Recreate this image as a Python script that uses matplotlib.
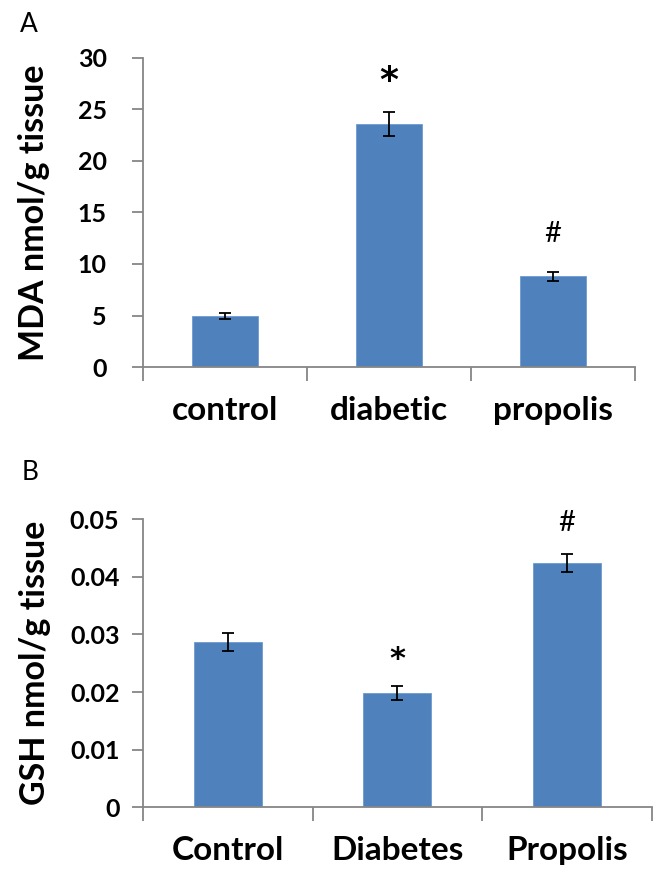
import matplotlib
matplotlib.use("Agg")
import matplotlib.pyplot as plt
import numpy as np

# Panel A data
cats_a = ["control", "diabetic", "propolis"]
mda = [4.95, 23.6, 8.8]
mda_err = [0.26, 1.2, 0.45]
mda_marks = ["", "*", "#"]
yticks_a = [0, 5, 10, 15, 20, 25, 30]

# Panel B data
cats_b = ["Control", "Diabetes", "Propolis"]
gsh = [0.0287, 0.0199, 0.0424]
gsh_err = [0.0015, 0.0012, 0.0015]
gsh_marks = ["", "*", "#"]
yticks_b = [0, 0.01, 0.02, 0.03, 0.04, 0.05]

FONT = ["Lato", "DejaVu Sans"]
plt.rcParams['font.family'] = FONT
BAR = "#4F81BD"
GRAY = "#868686"

fig = plt.figure(figsize=(6.59, 8.73), dpi=100)

def panel(rect, cats, vals, errs, marks, yticks, ylim, ylabel, tickfmt, mark_off, label_pad):
    ax = fig.add_axes(rect)
    x = np.arange(len(cats))
    ax.bar(x, vals, width=0.4, color=BAR, edgecolor="#6f9bd0", linewidth=0.6, zorder=2)
    ax.errorbar(x, vals, yerr=errs, fmt="none", ecolor="black", elinewidth=1.3,
                capsize=4.5, capthick=1.3, zorder=3)
    for xi, v, e, m in zip(x, vals, errs, marks):
        if m:
            ax.text(xi, v + e + mark_off[m], m, ha="center", va="center",
                    fontsize=mark_off[m + "fs"], fontweight="bold" if m == "*" else "normal",
                    family=["DejaVu Sans"] if m == "*" else FONT)
    ax.set_xlim(-0.5, len(cats) - 0.5)
    ax.set_ylim(*ylim)
    ax.set_yticks(yticks)
    ax.set_yticklabels([tickfmt(t) for t in yticks], fontsize=18, fontweight="bold")
    ax.set_xticks(x)
    ax.set_xticklabels(cats, fontsize=24, fontweight="bold")
    ax.set_xticks(np.arange(len(cats) + 1) - 0.5, minor=True)
    ax.tick_params(axis="x", which="major", length=0, pad=21)
    ax.tick_params(axis="x", which="minor", length=10, width=1.3, color=GRAY, direction="out")
    ax.tick_params(axis="y", length=8, width=1.3, color=GRAY, pad=label_pad)
    for s in ["top", "right"]:
        ax.spines[s].set_visible(False)
    for s in ["left", "bottom"]:
        ax.spines[s].set_color(GRAY)
        ax.spines[s].set_linewidth(1.3)
    ax.set_ylabel(ylabel, fontsize=24.5, fontweight="bold")
    return ax

axA = panel([0.217, 0.5796, 0.7465, 0.354], cats_a, mda, mda_err, mda_marks, yticks_a,
            (0, 30), "MDA nmol/g tissue", lambda t: f"{t:g}",
            {"*": 3.0, "*fs": 26, "#": 3.7, "#fs": 21}, 18)
axA.yaxis.set_label_coords(-0.19, 0.5)

axB = panel([0.217, 0.0753, 0.772, 0.330], cats_b, gsh, gsh_err, gsh_marks, yticks_b,
            (0, 0.05), "GSH nmol/g tissue", lambda t: "0" if t == 0 else f"{t:.2f}",
            {"*": 0.0045, "*fs": 22, "#": 0.0055, "#fs": 21}, 9)
axB.yaxis.set_label_coords(-0.18, 0.5)

fig.text(20 / 659, 1 - 24 / 873, "A", fontsize=19, ha="left", va="center")
fig.text(22 / 659, 1 - 473 / 873, "B", fontsize=19, ha="left", va="center")

fig.savefig("out.png", dpi=100)
